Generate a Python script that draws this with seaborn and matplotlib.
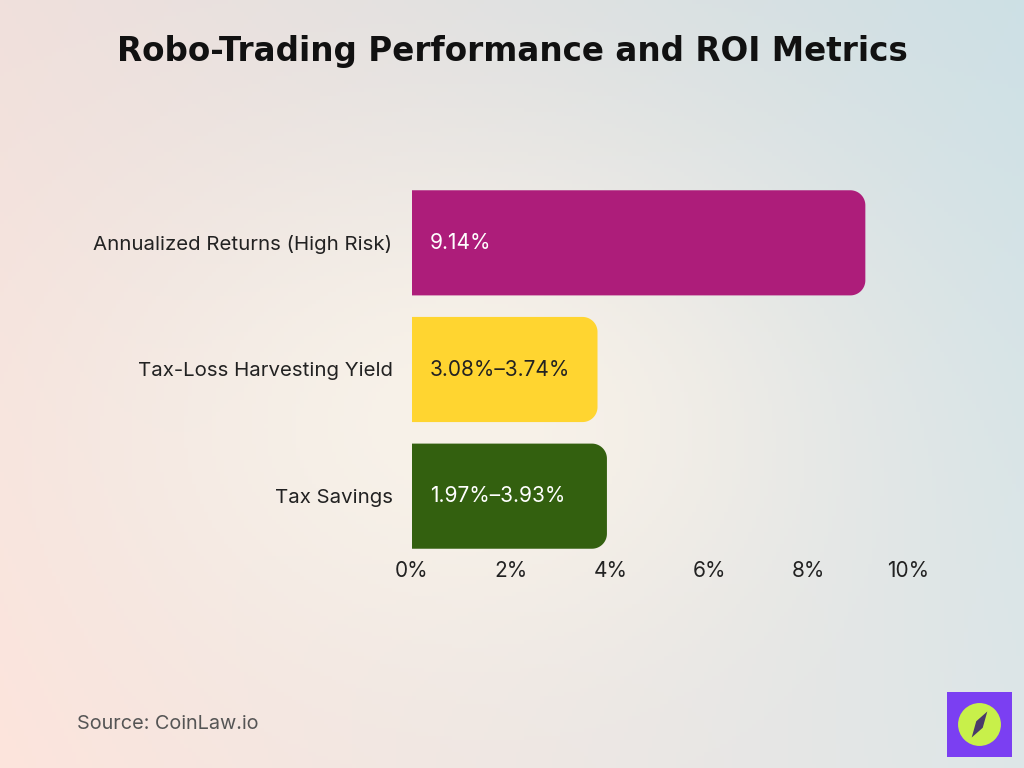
import numpy as np
import pandas as pd
import matplotlib
matplotlib.use("Agg")
import matplotlib.pyplot as plt
import seaborn as sns
from matplotlib.patches import Rectangle, Circle, Polygon
from matplotlib.colors import to_rgb

# ---- data ----
categories = ["Annualized Returns (High Risk)", "Tax-Loss Harvesting Yield", "Tax Savings"]
values = [9.14, 3.74, 3.93]
value_labels = ["9.14%", "3.08%\u20133.74%", "1.97%\u20133.93%"]
bar_colors = ["#AD1D7A", "#FFD530", "#33600F"]
label_colors = ["white", "#222222", "white"]
tick_values = [0, 2, 4, 6, 8, 10]
tick_labels = ["0%", "2%", "4%", "6%", "8%", "10%"]
title = "Robo-Trading Performance and ROI Metrics"
source = "Source: CoinLaw.io"

sns.set_theme(style="white")
plt.rcParams["font.family"] = ["Inter", "DejaVu Sans"]

fig = plt.figure(figsize=(10.24, 7.68), dpi=100)

# ---- background gradient ----
bg = fig.add_axes([0, 0, 1, 1], zorder=-10)
H, W = 192, 256
yy, xx = np.mgrid[0:1:H*1j, 0:1:W*1j]
tl, tr, bl, br = [np.array(to_rgb(c)) for c in ["#f0e0dc", "#cde0e5", "#fde4dc", "#dde6e8"]]
img = ((1-xx)[..., None]*(1-yy)[..., None]*tl + xx[..., None]*(1-yy)[..., None]*tr
       + (1-xx)[..., None]*yy[..., None]*bl + xx[..., None]*yy[..., None]*br)
cream = np.array(to_rgb("#f8f2e9"))
w = np.exp(-(((xx-0.45)/0.35)**2 + ((yy-0.55)/0.35)**2))[..., None]
img = img*(1-w) + cream*w
bg.imshow(img, extent=[0, 1, 0, 1], aspect="auto", origin="upper")
bg.set_axis_off()

# ---- chart ----
ax = fig.add_axes([412/1024, 1-559.5/768, (908-412)/1024, 380/768])
ax.patch.set_alpha(0)
df = pd.DataFrame({"category": categories, "value": values})
sns.barplot(data=df, x="value", y="category", hue="category", palette=bar_colors,
            legend=False, width=0.83, ax=ax, saturation=1)
ax.set_xlim(0, 10)
ax.set_ylim(2.5, -0.5)

px_x = (908-412)/10
px_y = 380/3
r_px = 15
rx = r_px/px_x
ry = r_px/px_y
for p, col in zip(list(ax.patches), bar_colors):
    x0, y0 = p.get_x(), p.get_y()
    wdt, hgt = p.get_width(), p.get_height()
    p.set_visible(False)
    x1, y1 = x0 + wdt, y0 + hgt
    t1 = np.linspace(-np.pi/2, 0, 20)
    t2 = np.linspace(0, np.pi/2, 20)
    # corner at (x1, y0) and (x1, y1) ; y axis inverted but shape symmetric
    c1 = np.column_stack([x1 - rx + rx*np.cos(t1), y0 + ry + ry*np.sin(t1)])
    c2 = np.column_stack([x1 - rx + rx*np.cos(t2), y1 - ry + ry*np.sin(t2)])
    pts = np.vstack([[x0, y0], c1, c2, [x0, y1]])
    ax.add_patch(Polygon(pts, closed=True, facecolor=col, edgecolor="none", zorder=2))

for i, (lab, c) in enumerate(zip(value_labels, label_colors)):
    ax.text(18/px_x, i, lab, color=c, fontsize=15, va="center", ha="left", zorder=3)

ax.set_xticks(tick_values)
ax.set_xticklabels(tick_labels, fontsize=15, color="#222222")
ax.tick_params(axis="y", labelsize=14.7, colors="#222222", pad=14, length=0)
ax.tick_params(axis="x", pad=1, length=0)
ax.set_xlabel("")
ax.set_ylabel("")
for s in ax.spines.values():
    s.set_visible(False)

# ---- title & source ----
fig.text(0.5, 1-52/768, title, ha="center", va="center", fontsize=23.5,
         fontweight="bold", family=["DejaVu Sans"], color="#111111")
fig.text(77/1024, 1-724/768, source, ha="left", va="center", fontsize=14.3, color="#555555")

# ---- logo ----
lg = fig.add_axes([947/1024, 1-757/768, 65/1024, 65/768], zorder=5)
lg.set_xlim(0, 1); lg.set_ylim(0, 1); lg.set_axis_off()
lg.add_patch(Rectangle((0, 0), 1, 1, facecolor="#7B3FF2", edgecolor="none"))
lg.add_patch(Circle((0.5, 0.5), 0.33, facecolor="#C8F04A", edgecolor="none"))
lg.add_patch(Polygon([[0.62, 0.70], [0.55, 0.45], [0.38, 0.30], [0.45, 0.55]],
                     closed=True, facecolor="#4A3A6A", edgecolor="none"))

fig.savefig("out.png", dpi=100)
